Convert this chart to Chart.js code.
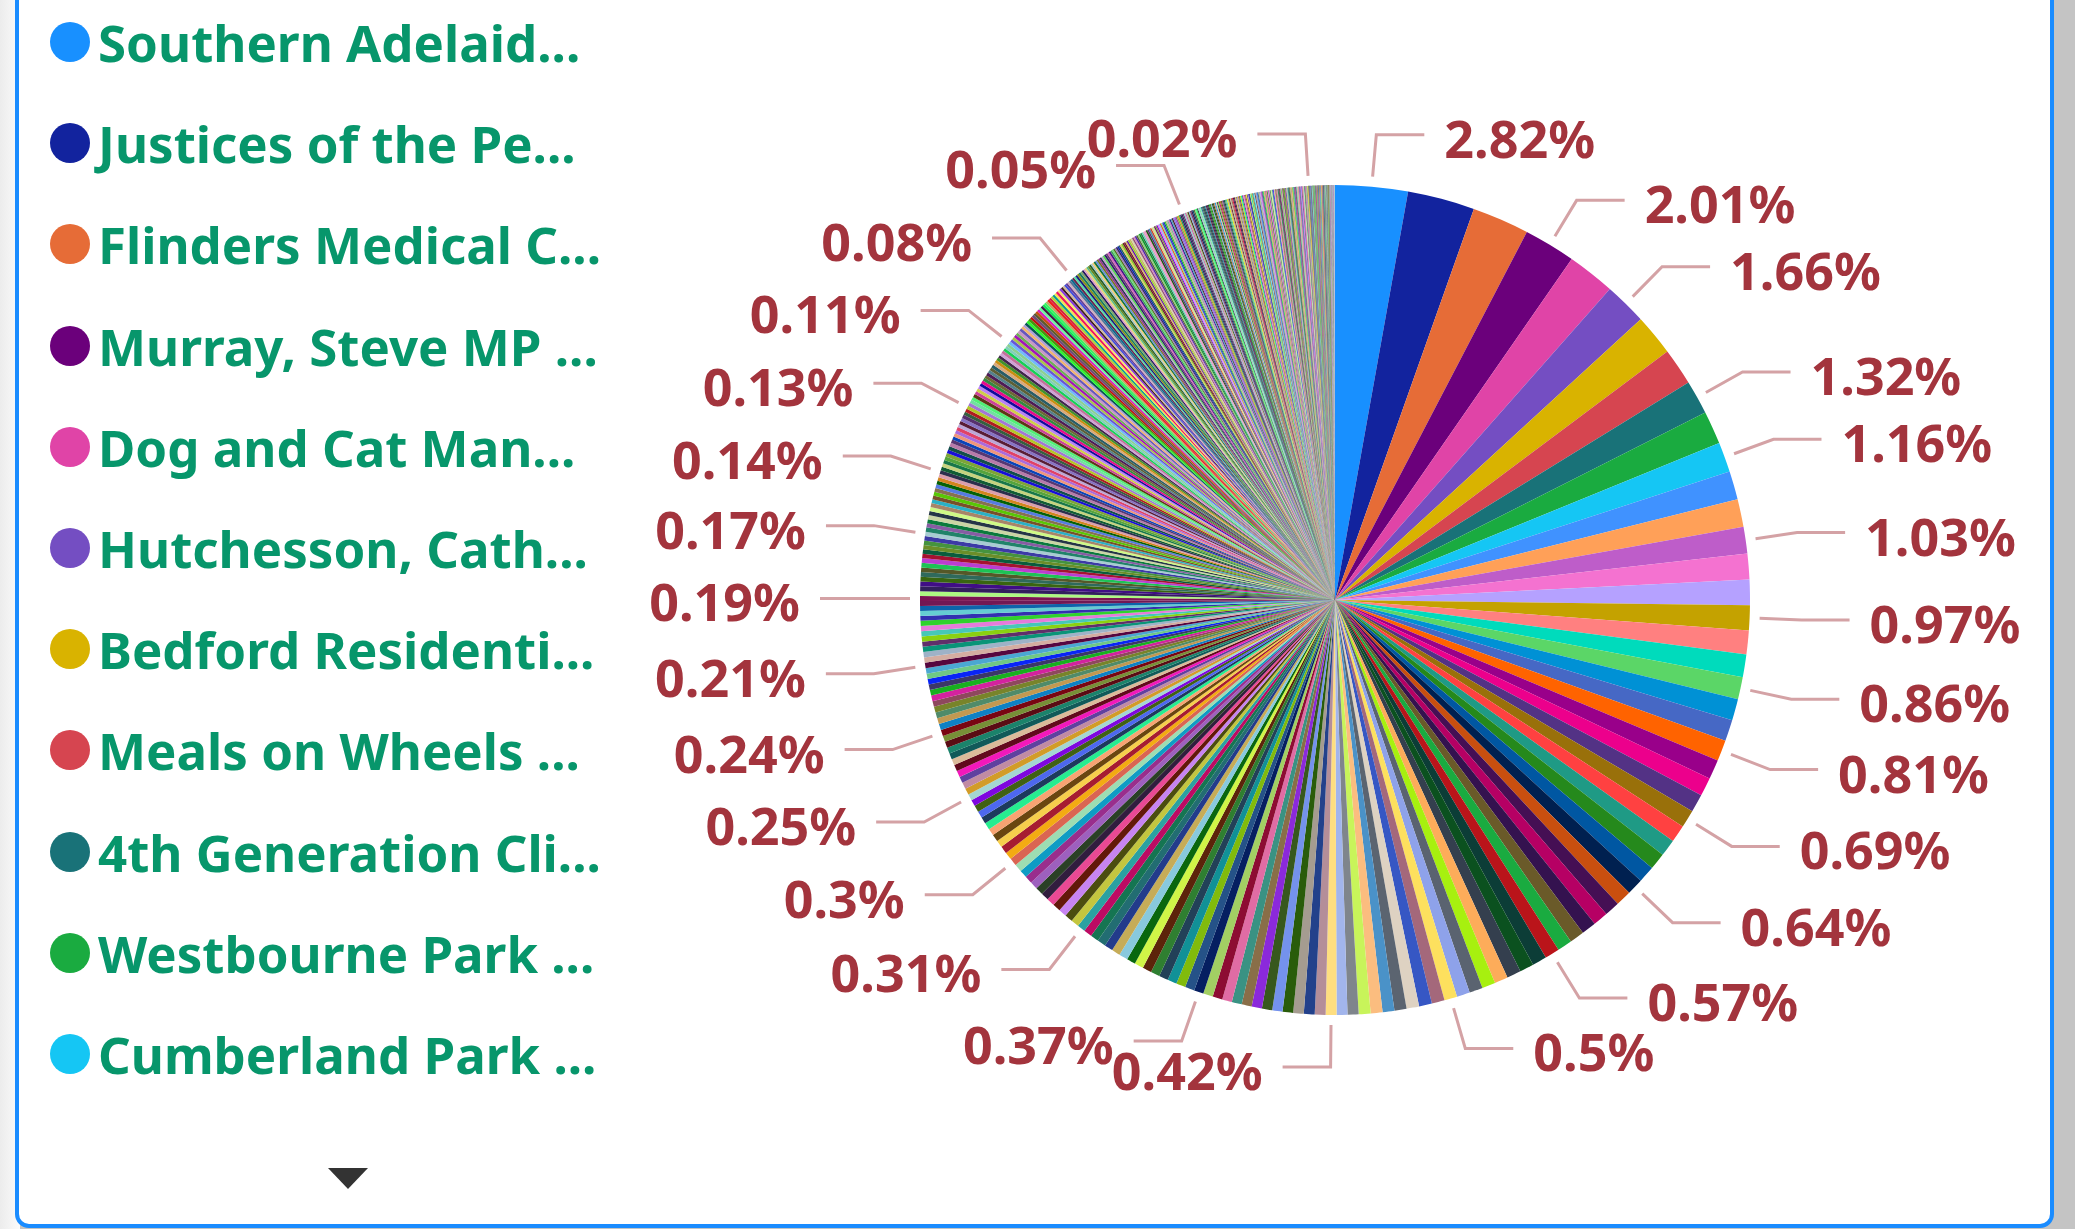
<!DOCTYPE html>
<html>
<head>
<meta charset="utf-8">
<title>Pie</title>
<script src="https://cdn.jsdelivr.net/npm/chart.js@4.4.1/dist/chart.umd.min.js"></script>
<style>
  html, body { margin: 0; padding: 0; width: 2075px; height: 1229px; overflow: hidden; background: #c4c4c4; }
  .shade { position: absolute; left: 0; top: 0; width: 20px; height: 1229px; background: linear-gradient(to right, #ececec, #fbfbfb); }
  .card { position: absolute; left: 15px; top: -30px; width: 2039px; height: 1258px; box-sizing: border-box;
          border: 4px solid #1a8cff; border-radius: 14px; background: #fff; }
  #pieChart { position: absolute; left: 0; top: 0; }
  #legend { position: absolute; left: 0; top: 0; }
  .item { position: absolute; left: 50px; height: 60px; display: flex; align-items: center; white-space: nowrap; }
  .dot { width: 40px; height: 40px; border-radius: 50%; margin-right: 8px; }
  .name { font: bold 51px "Noto Sans"; color: #07966b; }
  .pager { position: absolute; left: 328px; top: 1168px; width: 0; height: 0;
           border-left: 20px solid transparent; border-right: 20px solid transparent; border-top: 21px solid #333; }
</style>
</head>
<body>
<div class="shade"></div>
<div class="card"></div>
<canvas id="pieChart" width="2075" height="1229"></canvas>
<div id="legend"></div>
<div class="pager"></div>
<script>
// legend names as shown (only the first page of the scroll legend is visible)
const categories = ['Southern Adelaid...', 'Justices of the Pe...', 'Flinders Medical C...', 'Murray, Steve MP ...',
    'Dog and Cat Man...', 'Hutchesson, Cath...', 'Bedford Residenti...', 'Meals on Wheels ...',
    '4th Generation Cli...', 'Westbourne Park ...', 'Cumberland Park ...'];

// share of each slice in %, largest first
const shares = [
    2.82, 2.61, 2.22, 2.01, 1.86, 1.66, 1.60, 1.44, 1.32, 1.29,
    1.16, 1.11, 1.08, 1.03, 1.00, 0.99, 0.97, 0.93, 0.88, 0.86,
    0.84, 0.83, 0.81, 0.76, 0.72, 0.70, 0.69, 0.67, 0.66, 0.65,
    0.65, 0.64, 0.61, 0.59, 0.58, 0.57, 0.57, 0.57, 0.57, 0.56,
    0.55, 0.55, 0.52, 0.52, 0.52, 0.51, 0.50, 0.50, 0.50, 0.49,
    0.47, 0.46, 0.46, 0.46, 0.43, 0.42, 0.42, 0.42, 0.42, 0.41,
    0.41, 0.40, 0.40, 0.40, 0.39, 0.39, 0.38, 0.38, 0.38, 0.37,
    0.37, 0.36, 0.36, 0.36, 0.35, 0.35, 0.35, 0.34, 0.34, 0.33,
    0.33, 0.33, 0.32, 0.32, 0.31, 0.31, 0.31, 0.31, 0.31, 0.31,
    0.30, 0.30, 0.30, 0.30, 0.30, 0.30, 0.30, 0.29, 0.29, 0.28,
    0.28, 0.27, 0.27, 0.26, 0.26, 0.26, 0.25, 0.25, 0.25, 0.25,
    0.25, 0.25, 0.25, 0.24, 0.24, 0.24, 0.24, 0.24, 0.24, 0.24,
    0.23, 0.23, 0.23, 0.22, 0.22, 0.22, 0.22, 0.21, 0.21, 0.21,
    0.21, 0.21, 0.21, 0.20, 0.20, 0.20, 0.20, 0.20, 0.20, 0.19,
    0.19, 0.19, 0.19, 0.19, 0.19, 0.19, 0.18, 0.18, 0.18, 0.18,
    0.18, 0.18, 0.17, 0.17, 0.17, 0.17, 0.17, 0.17, 0.17, 0.16,
    0.16, 0.16, 0.16, 0.16, 0.15, 0.15, 0.15, 0.15, 0.15, 0.15,
    0.14, 0.14, 0.14, 0.14, 0.14, 0.14, 0.14, 0.14, 0.14, 0.14,
    0.14, 0.14, 0.14, 0.13, 0.13, 0.13, 0.13, 0.13, 0.13, 0.13,
    0.13, 0.13, 0.13, 0.13, 0.13, 0.13, 0.13, 0.13, 0.12, 0.12,
    0.12, 0.12, 0.12, 0.12, 0.12, 0.12, 0.12, 0.12, 0.12, 0.12,
    0.11, 0.11, 0.11, 0.11, 0.11, 0.11, 0.11, 0.11, 0.11, 0.11,
    0.11, 0.11, 0.11, 0.11, 0.11, 0.10, 0.10, 0.10, 0.10, 0.10,
    0.10, 0.10, 0.10, 0.10, 0.10, 0.09, 0.09, 0.09, 0.09, 0.09,
    0.09, 0.09, 0.09, 0.09, 0.09, 0.09, 0.09, 0.08, 0.08, 0.08,
    0.08, 0.08, 0.08, 0.08, 0.08, 0.08, 0.08, 0.08, 0.08, 0.08,
    0.08, 0.07, 0.07, 0.07, 0.07, 0.07, 0.07, 0.07, 0.07, 0.07,
    0.07, 0.07, 0.07, 0.07, 0.07, 0.07, 0.07, 0.07, 0.07, 0.07,
    0.07, 0.06, 0.06, 0.06, 0.06, 0.06, 0.06, 0.06, 0.06, 0.06,
    0.06, 0.06, 0.06, 0.06, 0.06, 0.06, 0.06, 0.06, 0.06, 0.06,
    0.06, 0.06, 0.06, 0.06, 0.06, 0.06, 0.06, 0.06, 0.06, 0.06,
    0.06, 0.05, 0.05, 0.05, 0.05, 0.05, 0.05, 0.05, 0.05, 0.05,
    0.05, 0.05, 0.05, 0.05, 0.05, 0.05, 0.05, 0.05, 0.05, 0.05,
    0.05, 0.05, 0.05, 0.05, 0.05, 0.05, 0.05, 0.05, 0.05, 0.05,
    0.05, 0.05, 0.05, 0.05, 0.05, 0.05, 0.05, 0.04, 0.04, 0.04,
    0.04, 0.04, 0.04, 0.04, 0.04, 0.04, 0.04, 0.04, 0.04, 0.04,
    0.04, 0.04, 0.04, 0.04, 0.04, 0.04, 0.04, 0.04, 0.04, 0.04,
    0.04, 0.04, 0.04, 0.04, 0.04, 0.04, 0.04, 0.04, 0.04, 0.04,
    0.04, 0.04, 0.04, 0.04, 0.04, 0.04, 0.04, 0.04, 0.04, 0.04,
    0.04, 0.04, 0.04, 0.04, 0.04, 0.04, 0.04, 0.03, 0.03, 0.03,
    0.03, 0.03, 0.03, 0.03, 0.03, 0.03, 0.03, 0.03, 0.03, 0.03,
    0.03, 0.03, 0.03, 0.03, 0.03, 0.03, 0.03, 0.03, 0.03, 0.03,
    0.03, 0.03, 0.03, 0.03, 0.03, 0.03, 0.03, 0.03, 0.03, 0.03,
    0.03, 0.03, 0.03, 0.03, 0.03, 0.03, 0.03, 0.03, 0.03, 0.03,
    0.03, 0.03, 0.03, 0.03, 0.03, 0.03, 0.03, 0.03, 0.03, 0.03,
    0.03, 0.03, 0.03, 0.03, 0.03, 0.03, 0.03, 0.02, 0.02, 0.02,
    0.02, 0.02, 0.02, 0.02, 0.02, 0.02, 0.02, 0.02, 0.02, 0.02,
    0.02, 0.02, 0.02, 0.02, 0.02, 0.02, 0.02, 0.02, 0.02, 0.02,
    0.02, 0.02, 0.02, 0.02, 0.02, 0.02, 0.02, 0.02, 0.02, 0.02,
    0.02, 0.02, 0.02, 0.02, 0.02, 0.02, 0.02, 0.02, 0.02, 0.02,
    0.02, 0.02, 0.02, 0.02, 0.02, 0.02, 0.02, 0.02, 0.02, 0.02,
    0.02, 0.02, 0.02, 0.02, 0.02, 0.02, 0.02, 0.02, 0.02, 0.01,
    0.01, 0.01, 0.01, 0.01, 0.01, 0.01, 0.01, 0.01, 0.01, 0.01,
    0.01, 0.01, 0.01, 0.01, 0.01, 0.01, 0.01, 0.01, 0.01, 0.01,
    0.01, 0.01, 0.01, 0.01, 0.01, 0.01, 0.01, 0.01, 0.01, 0.01,
    0.01, 0.01, 0.01, 0.01, 0.01, 0.01, 0.01, 0.01, 0.01
];

// slices whose percentage label survives the overlap hiding
const shownLabels = [0, 3, 5, 8, 10, 13, 16, 19, 22, 26, 31, 38, 46, 56, 69, 84, 96, 107, 118, 130,
    143, 157, 173, 193, 218, 255, 336, 488];

const baseColors = ['#1890ff', '#12239e', '#e66c37', '#6b007b', '#e044a7', '#744ec2', '#d9b300', '#d64550',
    '#197278', '#1aab40', '#15c6f4', '#4092ff', '#ffa058', '#be5dc9', '#f472d0', '#b5a1ff', '#c4a200',
    '#ff8080', '#00dbbc', '#5bd667', '#0091d5', '#4668c5', '#ff6300', '#99008a', '#ec008c', '#533285',
    '#99700a', '#ff4141', '#1f9a85', '#25891c', '#0057a2', '#002050', '#c94f0f', '#450f54', '#b60064',
    '#34124f', '#6a5a29', '#1aab40', '#ba141a', '#0c3d37', '#0b511f', '#343f4e', '#fdac5a', '#a7f00f',
    '#5a6370', '#8ea2ea', '#fde05e', '#a4687b', '#3657c4', '#ded2c2', '#5b6470', '#4a92c8', '#fbbd7f',
    '#c8f45a', '#7f858c', '#a2b5ec', '#fede80', '#b48e99', '#23418b', '#a59c90'];

// the rest of the slices get scattered colours, like the auto palette in the original
function sliceColors(n) {
    const out = baseColors.slice();
    let seed = 48271;
    const next = () => (seed = (seed * 16807) % 2147483647);
    while (out.length < n) {
        const h = next() % 360;
        const s = 25 + next() % 70;
        const l = 18 + next() % 58;
        out.push('hsl(' + h + ',' + s + '%,' + l + '%)');
    }
    return out;
}

const total = shares.reduce((a, b) => a + b, 0);

const leaderLabels = {
    id: 'leaderLabels',
    afterDatasetsDraw(chart) {
        const ctx = chart.ctx;
        const meta = chart.getDatasetMeta(0);
        ctx.save();
        ctx.font = 'bold 52px "Noto Sans"';
        ctx.textBaseline = 'alphabetic';
        shownLabels.forEach(i => {
            const arc = meta.data[i];
            const mid = (arc.startAngle + arc.endAngle) / 2;
            const cos = Math.cos(mid), sin = Math.sin(mid);
            const r = arc.outerRadius;
            const x0 = arc.x + cos * (r + 10), y0 = arc.y + sin * (r + 10);
            const x1 = arc.x + cos * (r + 52), y1 = arc.y + sin * (r + 52);
            const right = cos >= 0;
            const x2 = x1 + (right ? 48 : -48);
            ctx.strokeStyle = '#d4a2a5';
            ctx.lineWidth = 3;
            ctx.beginPath();
            ctx.moveTo(x0, y0);
            ctx.lineTo(x1, y1);
            ctx.lineTo(x2, y1);
            ctx.stroke();
            const pct = +(shares[i] / total * 100).toFixed(2) + '%';
            ctx.fillStyle = '#a3343d';
            ctx.textAlign = right ? 'left' : 'right';
            ctx.fillText(pct, x2 + (right ? 20 : -20), y1 + 23);
        });
        ctx.restore();
    }
};

const chart = new Chart(document.getElementById('pieChart'), {
    type: 'pie',
    data: {
        labels: categories,
        datasets: [{
            data: shares,
            backgroundColor: sliceColors(shares.length),
            borderWidth: 0,
            hoverOffset: 0,
            radius: 415
        }]
    },
    options: {
        responsive: false,
        animation: false,
        events: [],
        layout: { padding: { left: 920, right: 325, top: 185, bottom: 214 } },
        plugins: {
            legend: { display: false },
            tooltip: { enabled: false }
        }
    },
    plugins: [leaderLabels]
});

// html legend built from the chart's own legend items
const legendEl = document.getElementById('legend');
chart.options.plugins.legend.labels.generateLabels(chart).forEach((item, i) => {
    const row = document.createElement('div');
    row.className = 'item';
    row.style.top = (42 + i * 101.2 - 30) + 'px';
    row.innerHTML = '<span class="dot" style="background:' + item.fillStyle + '"></span><span class="name"></span>';
    row.querySelector('.name').textContent = item.text;
    legendEl.appendChild(row);
});
</script>
</body>
</html>
